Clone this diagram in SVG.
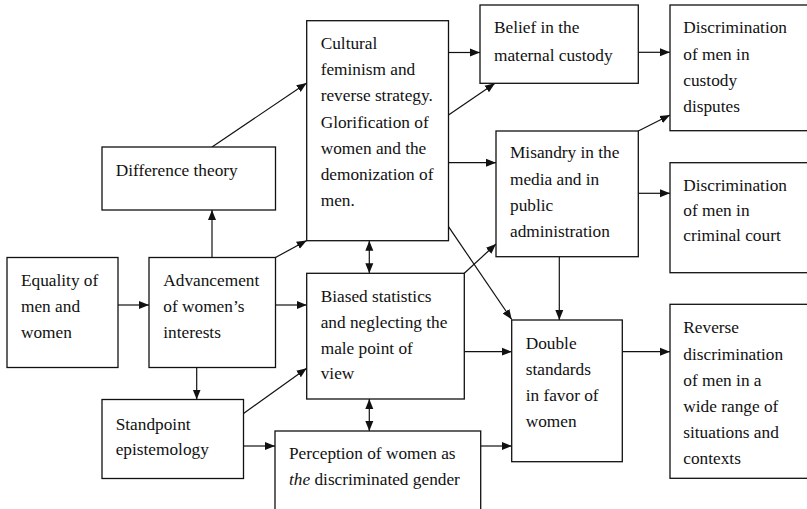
<svg xmlns="http://www.w3.org/2000/svg" width="807" height="509" viewBox="0 0 807 509">
  <style>
    .box rect { fill: #fff; stroke: #111; stroke-width: 1.3; }
    .box text { font-size: 17.3px; fill: #111; }
    #connectors line { stroke: #111; stroke-width: 1.2; marker-end: url(#arrow); }
    #connectors line.both { marker-start: url(#arrow); }
  </style>
  <defs>
    <marker id="arrow" markerUnits="userSpaceOnUse" markerWidth="11" markerHeight="9" refX="10" refY="4.5" orient="auto-start-reverse">
      <path d="M0,0.5 L10,4.5 L0,8.5 z" fill="#111"/>
    </marker>
  </defs>
  <rect width="807" height="509" fill="#fff"/>

  <g id="connectors">
    <line x1="118" y1="305" x2="149" y2="305"/>
    <line x1="212" y1="257.5" x2="212" y2="210"/>
    <line x1="196.7" y1="367.5" x2="196.7" y2="399.5"/>
    <line x1="212" y1="147" x2="306.7" y2="83"/>
    <line x1="275.5" y1="257.5" x2="306.7" y2="240.5"/>
    <line x1="275.5" y1="305" x2="306.7" y2="305"/>
    <line x1="243.5" y1="413.5" x2="306.7" y2="368.3"/>
    <line x1="243.5" y1="446" x2="275" y2="446"/>
    <line class="both" x1="369.3" y1="240.7" x2="369.3" y2="273.3"/>
    <line class="both" x1="369.3" y1="399" x2="369.3" y2="431"/>
    <line x1="448.5" y1="52.5" x2="480" y2="52.5"/>
    <line x1="448.5" y1="115" x2="495" y2="83.3"/>
    <line x1="448.5" y1="162.7" x2="496" y2="162.7"/>
    <line x1="448.5" y1="226.7" x2="511.7" y2="319.5"/>
    <line x1="464.3" y1="273.3" x2="496" y2="244"/>
    <line x1="464.3" y1="351.7" x2="511.7" y2="351.7"/>
    <line x1="480.7" y1="446" x2="511.7" y2="446"/>
    <line x1="559.3" y1="256.7" x2="559.3" y2="320"/>
    <line x1="638.3" y1="52.3" x2="670" y2="52.3"/>
    <line x1="638.3" y1="131" x2="670" y2="115"/>
    <line x1="638.3" y1="193.3" x2="670" y2="193.3"/>
    <line x1="622.3" y1="351.7" x2="670" y2="351.7"/>
  </g>

  <g font-family="'Liberation Serif', 'Times New Roman', Times, 'DejaVu Serif', serif">
  <g id="equality" class="box">
    <rect x="7" y="257.5" width="111" height="110"/>
    <text><tspan x="21" y="286">Equality of</tspan><tspan x="21" y="312">men and</tspan><tspan x="21" y="338">women</tspan></text>
  </g>
  <g id="advancement" class="box">
    <rect x="149" y="257.5" width="126.5" height="110"/>
    <text><tspan x="163.3" y="286">Advancement</tspan><tspan x="163.3" y="312">of women’s</tspan><tspan x="163.3" y="338">interests</tspan></text>
  </g>
  <g id="difference" class="box">
    <rect x="102" y="147" width="173.5" height="63"/>
    <text x="115.7" y="176">Difference theory</text>
  </g>
  <g id="standpoint" class="box">
    <rect x="102" y="399.5" width="141.5" height="79"/>
    <text><tspan x="115.7" y="430">Standpoint</tspan><tspan x="115.7" y="455">epistemology</tspan></text>
  </g>
  <g id="cultural" class="box">
    <rect x="306.7" y="20.7" width="141.8" height="220"/>
    <text><tspan x="320.7" y="49.3">Cultural</tspan><tspan x="320.7" y="75.3">feminism and</tspan><tspan x="320.7" y="101.3">reverse strategy.</tspan><tspan x="320.7" y="127.5">Glorification of</tspan><tspan x="320.7" y="153.7">women and the</tspan><tspan x="320.7" y="180">demonization of</tspan><tspan x="320.7" y="206">men.</tspan></text>
  </g>
  <g id="biased" class="box">
    <rect x="306.7" y="273.3" width="157.6" height="125.7"/>
    <text><tspan x="320.7" y="301.7">Biased statistics</tspan><tspan x="320.7" y="327.6">and neglecting the</tspan><tspan x="320.7" y="353.5">male point of</tspan><tspan x="320.7" y="379.4">view</tspan></text>
  </g>
  <g id="perception" class="box">
    <rect x="275" y="431" width="205.7" height="90"/>
    <text><tspan x="289" y="459.3">Perception of women as</tspan><tspan x="289" y="485"><tspan font-style="italic">the</tspan> discriminated gender</tspan></text>
  </g>
  <g id="belief" class="box">
    <rect x="480" y="5" width="158.3" height="78.3"/>
    <text><tspan x="494" y="33.3">Belief in the</tspan><tspan x="494" y="60.5">maternal custody</tspan></text>
  </g>
  <g id="misandry" class="box">
    <rect x="496" y="131" width="142.3" height="125.7"/>
    <text><tspan x="510" y="158.3">Misandry in the</tspan><tspan x="510" y="184.6">media and in</tspan><tspan x="510" y="210.9">public</tspan><tspan x="510" y="237.2">administration</tspan></text>
  </g>
  <g id="double" class="box">
    <rect x="511.7" y="320" width="110.6" height="141.7"/>
    <text><tspan x="525.7" y="349.3">Double</tspan><tspan x="525.7" y="375.3">standards</tspan><tspan x="525.7" y="401">in favor of</tspan><tspan x="525.7" y="427">women</tspan></text>
  </g>
  <g id="custody" class="box">
    <rect x="670" y="5" width="145" height="125.7"/>
    <text><tspan x="683.3" y="33.3">Discrimination</tspan><tspan x="683.3" y="59.5">of men in</tspan><tspan x="683.3" y="85.7">custody</tspan><tspan x="683.3" y="111.8">disputes</tspan></text>
  </g>
  <g id="criminal" class="box">
    <rect x="670" y="162.7" width="145" height="110"/>
    <text><tspan x="683.3" y="190.5">Discrimination</tspan><tspan x="683.3" y="216">of men in</tspan><tspan x="683.3" y="241">criminal court</tspan></text>
  </g>
  <g id="reverse" class="box">
    <rect x="670" y="304.3" width="145" height="174"/>
    <text><tspan x="683.3" y="333.3">Reverse</tspan><tspan x="683.3" y="359.5">discrimination</tspan><tspan x="683.3" y="385.7">of men in a</tspan><tspan x="683.3" y="411.9">wide range of</tspan><tspan x="683.3" y="438.1">situations and</tspan><tspan x="683.3" y="464.3">contexts</tspan></text>
  </g>
  </g>
</svg>
